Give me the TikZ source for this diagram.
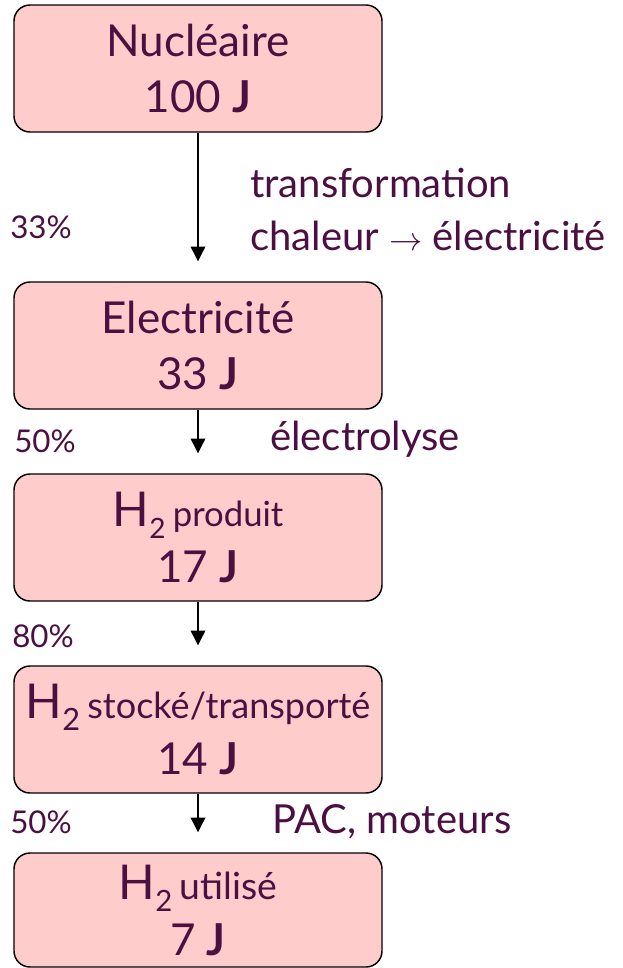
\documentclass[tikz,border=0pt]{standalone}
\usepackage{fontspec}
\setmainfont{Lato}
\usetikzlibrary{arrows.meta, positioning}
\definecolor{plum}{RGB}{75,15,65}
\definecolor{boxpink}{RGB}{255,204,204}
\tikzstyle{ebox}=[rectangle, rounded corners=12pt, draw=black, line width=1.1pt,
  fill=boxpink, text=plum, align=center, minimum width=276pt,
  minimum height=95.25pt, font=\fontsize{33}{42}\selectfont]
\tikzstyle{earr}=[-{Triangle[length=11pt, width=11pt]}, line width=1pt, shorten >=15pt]
\tikzstyle{elbl}=[anchor=base west, text=plum, inner sep=0pt, font=\fontsize{30}{30}\selectfont]
\tikzstyle{epct}=[anchor=base west, text=plum, inner sep=0pt, font=\fontsize{23.5}{25}\selectfont]
\newcommand{\hdeux}[1]{{\fontsize{36}{36}\selectfont H}\raisebox{-9pt}{\fontsize{#1}{#1}\selectfont 2}}

\begin{document}
\begin{tikzpicture}[x=0.75pt, y=-0.75pt]
        \useasboundingbox (0,0) rectangle (622,968);
        \node[ebox] (nucl) at (198,68.5) {Nucléaire\\100 \textbf{J}};
        \node[ebox] (elec) at (198,345.5) {Electricité\\33 \textbf{J}};
        \node[ebox] (hprod) at (198,537.5)
          {\hdeux{21}\,{\fontsize{26}{26}\selectfont produit}\\17 \textbf{J}};
        \node[ebox] (hstock) at (198,729.5)
          {\hdeux{23}\,{\fontsize{27}{27}\selectfont stocké/transporté}\\14 \textbf{J}};
        \node[ebox, minimum height=85.5pt] (hutil) at (198,910)
          {\hdeux{22}\,{\fontsize{28}{28}\selectfont utilisé}\\7 \textbf{J}};
        \draw[earr] (nucl)--(elec);
        \draw[earr] (elec)--(hprod);
        \draw[earr] (hprod)--(hstock);
        \draw[earr] (hstock)--(hutil);
        \node[elbl] (trans) at (250,197) {transformation};
        \node[elbl] (chal) at (250,250) {chaleur $\rightarrow$ électricité};
        \node[elbl] (lyse) at (270,450) {électrolyse};
        \node[elbl] (pac) at (272,833) {PAC, moteurs};
        \node[epct] (p1) at (10,238) {33\%};
        \node[epct] (p2) at (14,452) {50\%};
        \node[epct] (p3) at (12,647) {80\%};
        \node[epct] (p4) at (10,833) {50\%};
      \end{tikzpicture}
\end{document}
